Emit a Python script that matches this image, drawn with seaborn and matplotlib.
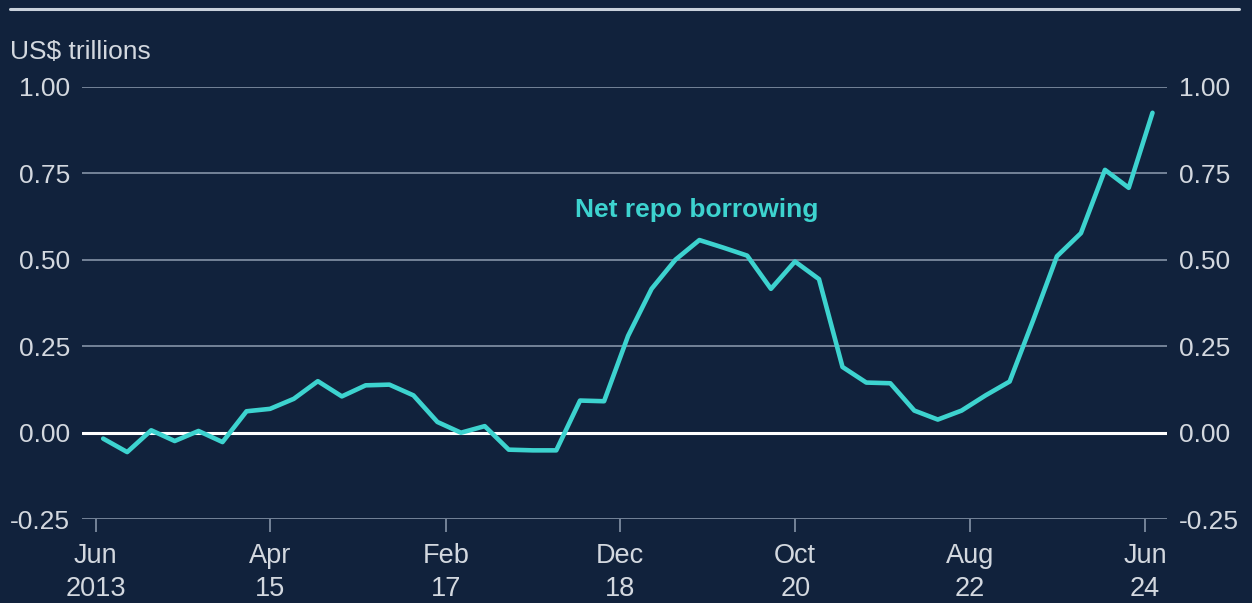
import numpy as np
import pandas as pd
import matplotlib
matplotlib.use("Agg")
import matplotlib.pyplot as plt
import seaborn as sns
from matplotlib.lines import Line2D

# ---- data (quarterly, Jun 2013 .. Jun 2024), US$ trillions ----
start_date = "2013-06-30"
net_repo = [
    -0.017, -0.056, 0.007, -0.024, 0.005, -0.027, 0.062, 0.069, 0.098, 0.149,
    0.105, 0.137, 0.139, 0.108, 0.031, 0.000, 0.019, -0.049, -0.051, -0.051,
    0.093, 0.091, 0.280, 0.416, 0.500, 0.557, 0.535, 0.512, 0.416, 0.495,
    0.444, 0.190, 0.145, 0.143, 0.064, 0.038, 0.064, 0.108, 0.148, 0.325,
    0.510, 0.577, 0.760, 0.708, 0.925,
]
tick_dates = ["2013-06-01", "2015-04-01", "2017-02-01", "2018-12-01",
              "2020-10-01", "2022-08-01", "2024-06-01"]
tick_labels = ["Jun\n2013", "Apr\n15", "Feb\n17", "Dec\n18", "Oct\n20", "Aug\n22", "Jun\n24"]
y_ticks = [-0.25, 0.0, 0.25, 0.50, 0.75, 1.00]
series_label = "Net repo borrowing"
unit_label = "US$ trillions"

dates = pd.date_range(start=start_date, periods=len(net_repo), freq=pd.offsets.QuarterEnd())
df = pd.DataFrame({"date": dates, "value": net_repo})

BG = "#11223c"
LINE = "#3dd3cf"
TXT = "#d3d8df"
GRID = "#8594a8"

sns.set_theme(style="dark")
plt.rcParams["font.family"] = ["Liberation Sans", "DejaVu Sans"]

fig = plt.figure(figsize=(12.52, 6.03), dpi=100, facecolor=BG)
ax = fig.add_axes([0.0655, 0.139, 0.8665, 0.717])
ax.set_facecolor(BG)

sns.lineplot(data=df, x="date", y="value", ax=ax, color=LINE, linewidth=3.3, zorder=5)

# axes scales
t0 = pd.Timestamp(tick_dates[0])
t1 = pd.Timestamp(tick_dates[-1])
ax.set_xlim(t0 - pd.Timedelta(days=52), t1 + pd.Timedelta(days=84))
ax.set_ylim(-0.25, 1.0)

ax.set_yticks(y_ticks)
ax.set_yticklabels([f"{v:.2f}" for v in y_ticks])
ax.set_xticks(pd.to_datetime(tick_dates))
ax.set_xticklabels(tick_labels, linespacing=1.35)

for s in ax.spines.values():
    s.set_visible(False)

ax.grid(False)
for v in y_ticks:
    if v == 0:
        ax.axhline(v, color="white", linewidth=2.2, zorder=3)
    else:
        ax.axhline(v, color=GRID, linewidth=1.2, zorder=2)

ax.tick_params(axis="y", which="both", left=False, right=False,
               labelleft=True, labelright=True, labelsize=19, colors=TXT, pad=2.5)
ax.tick_params(axis="x", which="both", bottom=True, length=9, width=1.2,
               color=GRID, direction="out", labelsize=19.5, labelcolor=TXT, pad=8)
for lab in ax.get_yticklabels():
    lab.set_color(TXT)

ax.set_xlabel("")
ax.set_ylabel("")

ax.text(pd.Timestamp("2019-09-20"), 0.645, series_label, color=LINE, fontsize=19,
        fontweight="bold", ha="center", va="center")
fig.text(0.008, 0.913, unit_label, color=TXT, fontsize=19, ha="left", va="center")

fig.add_artist(Line2D([0.008, 0.99], [0.985, 0.985], transform=fig.transFigure,
                      color="#c9d1db", linewidth=2.2))

fig.savefig("out.png", dpi=100, facecolor=BG)
